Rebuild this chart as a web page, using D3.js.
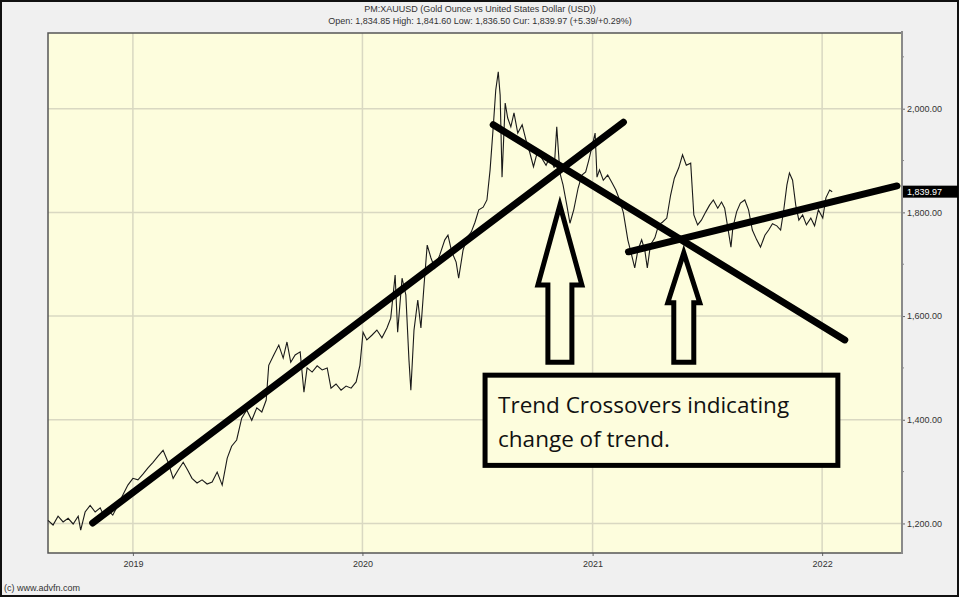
<!DOCTYPE html>
<meta charset="utf-8">
<style>
body { margin: 0; background: #fff; }
svg { display: block; }
.hdr, .tick text, .copy { font-family: "Liberation Sans", Arial, sans-serif; font-size: 9px; fill: #333; }
.note { font-family: "Open Sans", sans-serif; font-size: 22.5px; fill: #111; }
</style>
<body>
<script src="https://d3js.org/d3.v7.min.js"></script>
<script>

// gold price, weekly-ish closes
var dates = ["2018-08-19","2018-08-27","2018-09-04","2018-09-12","2018-09-20","2018-09-28","2018-10-06","2018-10-10","2018-10-17","2018-10-25",
  "2018-11-02","2018-11-10","2018-11-16","2018-11-22","2018-11-30","2018-12-08","2018-12-16","2018-12-24","2019-01-01","2019-01-09",
  "2019-01-17","2019-01-25","2019-02-02","2019-02-10","2019-02-18","2019-02-26","2019-03-06","2019-03-14","2019-03-22","2019-03-29",
  "2019-04-05","2019-04-13","2019-04-21","2019-04-29","2019-05-07","2019-05-15","2019-05-23","2019-05-31","2019-06-07","2019-06-15",
  "2019-06-23","2019-07-01","2019-07-09","2019-07-17","2019-07-25","2019-08-01","2019-08-05","2019-08-13","2019-08-21","2019-08-28",
  "2019-09-03","2019-09-09","2019-09-16","2019-09-24","2019-09-30","2019-10-05","2019-10-13","2019-10-21","2019-10-29","2019-11-06",
  "2019-11-12","2019-11-20","2019-11-28","2019-12-06","2019-12-14","2019-12-22","2019-12-28","2020-01-02","2020-01-08","2020-01-16",
  "2020-01-24","2020-02-01","2020-02-09","2020-02-15","2020-02-22","2020-02-26","2020-03-04","2020-03-10","2020-03-15","2020-03-18",
  "2020-03-23","2020-03-29","2020-04-03","2020-04-08","2020-04-13","2020-04-19","2020-04-25","2020-05-03","2020-05-11","2020-05-16",
  "2020-05-22","2020-05-29","2020-06-02","2020-06-09","2020-06-15","2020-06-22","2020-06-28","2020-07-04","2020-07-11","2020-07-17",
  "2020-07-22","2020-07-27","2020-07-31","2020-08-04","2020-08-07","2020-08-10","2020-08-15","2020-08-19","2020-08-24","2020-08-29",
  "2020-09-04","2020-09-11","2020-09-17","2020-09-23","2020-09-29","2020-10-06","2020-10-12","2020-10-19","2020-10-25","2020-11-01",
  "2020-11-05","2020-11-10","2020-11-15","2020-11-21","2020-11-26","2020-12-02","2020-12-09","2020-12-15","2020-12-21","2020-12-26",
  "2021-01-05","2021-01-08","2021-01-12","2021-01-18","2021-01-25","2021-01-31","2021-02-07","2021-02-13","2021-02-19","2021-02-26",
  "2021-03-04","2021-03-09","2021-03-14","2021-03-20","2021-03-25","2021-03-29","2021-04-03","2021-04-10","2021-04-16","2021-04-22",
  "2021-04-29","2021-05-05","2021-05-11","2021-05-18","2021-05-24","2021-05-30","2021-06-06","2021-06-11","2021-06-17","2021-06-23",
  "2021-06-30","2021-07-06","2021-07-12","2021-07-19","2021-07-25","2021-07-30","2021-08-09","2021-08-12","2021-08-18","2021-08-24",
  "2021-08-31","2021-09-06","2021-09-12","2021-09-19","2021-09-25","2021-10-02","2021-10-08","2021-10-14","2021-10-21","2021-10-27",
  "2021-11-01","2021-11-06","2021-11-10","2021-11-15","2021-11-20","2021-11-25","2021-12-01","2021-12-07","2021-12-14","2021-12-20",
  "2021-12-26","2022-01-02","2022-01-07","2022-01-13","2022-01-17"];

var prices = [1206,1197,1214,1203,1210,1199,1214,1187,1222,1235,
  1222,1230,1214,1226,1216,1235,1255,1274,1287,1284,
  1295,1307,1318,1330,1341,1318,1287,1303,1318,1303,
  1287,1278,1284,1276,1280,1299,1274,1326,1349,1361,
  1403,1419,1399,1423,1415,1438,1505,1525,1544,1519,
  1550,1511,1525,1531,1453,1500,1492,1504,1496,1500,
  1461,1469,1457,1465,1461,1473,1505,1569,1554,1563,
  1573,1558,1577,1596,1679,1569,1673,1641,1515,1457,
  1573,1631,1577,1660,1737,1712,1693,1718,1747,1756,
  1724,1704,1673,1727,1751,1762,1781,1805,1810,1824,
  1882,1965,2036,2071,2026,1868,2011,1982,1965,1992,
  1953,1969,1940,1916,1888,1920,1905,1891,1907,1886,
  1965,1876,1853,1814,1779,1805,1847,1872,1878,1901,
  1953,1868,1882,1862,1872,1859,1843,1824,1799,1747,
  1718,1693,1727,1747,1727,1693,1737,1751,1776,1781,
  1789,1833,1866,1886,1911,1891,1895,1795,1776,1785,
  1801,1814,1824,1808,1820,1808,1733,1770,1801,1818,
  1824,1805,1766,1747,1733,1756,1766,1778,1774,1766,
  1805,1853,1876,1862,1814,1785,1795,1776,1789,1774,
  1805,1789,1828,1843,1839.97];

var yTicks = [1200, 1400, 1600, 1800, 2000];
var yMinor = [1300, 1500, 1700, 1900, 2100];
var xTicks = ["2019-01-01", "2020-01-01", "2021-01-01", "2022-01-01"];
var xLabels = ["2019", "2020", "2021", "2022"];

// hand drawn trend lines [date, value] pairs
var trend1 = [["2018-10-29", 1201], ["2021-02-19", 1974]];
var trend2 = [["2020-07-27", 1969], ["2022-02-06", 1554]];
var trend3 = [["2021-02-27", 1724], ["2022-04-30", 1851]];
// arrows: tip date, tip value, foot value
var arrows = [["2020-11-10", 1814, 1511], ["2021-05-26", 1722, 1511]];
var noteBox = [["2020-07-14", 1486], ["2022-01-26", 1312]];
var noteLines = ["Trend Crossovers indicating", "change of trend."];

var title1 = "PM:XAUUSD (Gold Ounce vs United States Dollar (USD))";
var title2 = "Open: 1,834.85 High: 1,841.60 Low: 1,836.50 Cur: 1,839.97 (+5.39/+0.29%)";
var lastPrice = 1839.97;

var width = 959, height = 597;
var pLeft = 48, pRight = 902, pTop = 33, pBottom = 553;
var parse = d3.timeParse("%Y-%m-%d");

var x = d3.scaleTime()
    .domain([parse("2018-08-19"), parse("2022-05-08")])
    .range([pLeft, pRight]);
var y = d3.scaleLinear()
    .domain([1143, 2146])
    .range([pBottom, pTop]);

var fmt = d3.format(",.2f");

var svg = d3.select("body").append("svg")
    .attr("width", width)
    .attr("height", height);

svg.append("rect")
    .attr("x", 1).attr("y", 1)
    .attr("width", width - 2).attr("height", height - 2)
    .attr("fill", "#f0f0f0")
    .attr("stroke", "#111").attr("stroke-width", 2);

svg.append("rect")
    .attr("x", pLeft).attr("y", pTop)
    .attr("width", pRight - pLeft).attr("height", pBottom - pTop)
    .attr("fill", "#fdfddd");

// grid
svg.append("g").selectAll("line")
    .data(yTicks)
  .enter().append("line")
    .attr("x1", pLeft).attr("x2", pRight)
    .attr("y1", d => y(d)).attr("y2", d => y(d))
    .attr("stroke", "#d9d8c2").attr("stroke-width", 1.5);

svg.append("g").selectAll("line")
    .data(xTicks)
  .enter().append("line")
    .attr("x1", d => x(parse(d))).attr("x2", d => x(parse(d)))
    .attr("y1", pTop).attr("y2", pBottom)
    .attr("stroke", "#d9d8c2").attr("stroke-width", 1.5);

// axes
var yAxis = d3.axisRight(y)
    .tickValues(yTicks)
    .tickSize(3)
    .tickPadding(2)
    .tickFormat(fmt);
var ga = svg.append("g")
    .attr("transform", "translate(" + pRight + ",0)")
    .call(yAxis);
ga.select(".domain").remove();
ga.selectAll(".tick line").attr("stroke", "#666");

svg.append("g").selectAll("line")
    .data(yMinor)
  .enter().append("line")
    .attr("x1", pRight).attr("x2", pRight + 2)
    .attr("y1", d => y(d)).attr("y2", d => y(d))
    .attr("stroke", "#888");

var xAxis = d3.axisBottom(x)
    .tickValues(xTicks.map(parse))
    .tickSize(3)
    .tickPadding(5)
    .tickFormat((d, i) => xLabels[i]);
var gx = svg.append("g")
    .attr("transform", "translate(0," + pBottom + ")")
    .call(xAxis);
gx.select(".domain").remove();
gx.selectAll(".tick line").attr("stroke", "#666");
svg.selectAll(".tick").attr("font-size", null).attr("font-family", null);

// frame
svg.append("path")
    .attr("d", "M" + pRight + "," + pTop + "H" + pLeft + "V" + pBottom + "H" + pRight)
    .attr("fill", "none").attr("stroke", "#555").attr("stroke-width", 1.5);
svg.append("line")
    .attr("x1", pRight).attr("x2", pRight).attr("y1", pTop - 2).attr("y2", pBottom + 1)
    .attr("stroke", "#8a8a8a").attr("stroke-width", 2);

// price line
var series = dates.map((d, i) => ({date: parse(d), value: prices[i]}));
var line = d3.line()
    .x(d => x(d.date))
    .y(d => y(d.value));

svg.append("path")
    .datum(series)
    .attr("d", line)
    .attr("fill", "none")
    .attr("stroke", "#1a1a1a")
    .attr("stroke-width", 1.1);

// current price flag
svg.append("rect")
    .attr("x", pRight + 1).attr("y", y(lastPrice) - 6)
    .attr("width", width - pRight - 2).attr("height", 12)
    .attr("fill", "#000");
svg.append("text")
    .attr("class", "hdr")
    .attr("x", pRight + 5).attr("y", y(lastPrice) + 3)
    .style("fill", "#fff")
    .text(fmt(lastPrice));

// trend lines
[trend1, trend2, trend3].forEach(function(t) {
  svg.append("line")
      .attr("x1", x(parse(t[0][0]))).attr("y1", y(t[0][1]))
      .attr("x2", x(parse(t[1][0]))).attr("y2", y(t[1][1]))
      .attr("stroke", "#000")
      .attr("stroke-width", 7)
      .attr("stroke-linecap", "round");
});

// hollow arrows
arrows.forEach(function(a, i) {
  var cx = x(parse(a[0])), ty = y(a[1]), by = y(a[2]);
  var hw = i == 0 ? 22 : 16, sw = i == 0 ? 12 : 10;
  var hy = ty + (i == 0 ? 80 : 50);
  var pts = [[cx, ty], [cx + hw, hy], [cx + sw, hy], [cx + sw, by],
             [cx - sw, by], [cx - sw, hy], [cx - hw, hy]];
  svg.append("polygon")
      .attr("points", pts.map(p => p.join(",")).join(" "))
      .attr("fill", "#fdfddd")
      .attr("stroke", "#000")
      .attr("stroke-width", 5)
      .attr("stroke-linejoin", "miter");
});

// note box
var bx0 = x(parse(noteBox[0][0])), by0 = y(noteBox[0][1]);
var bx1 = x(parse(noteBox[1][0])), by1 = y(noteBox[1][1]);
svg.append("rect")
    .attr("x", bx0).attr("y", by0)
    .attr("width", bx1 - bx0).attr("height", by1 - by0)
    .attr("fill", "#fdfddd")
    .attr("stroke", "#000")
    .attr("stroke-width", 5);
svg.selectAll(".note")
    .data(noteLines)
  .enter().append("text")
    .attr("class", "note")
    .attr("x", bx0 + 13)
    .attr("y", (d, i) => by0 + 38 + i * 34)
    .text(d => d);

// header
svg.append("text").attr("class", "hdr")
    .attr("x", 480).attr("y", 12).attr("text-anchor", "middle")
    .text(title1);
svg.append("text").attr("class", "hdr")
    .attr("x", 480).attr("y", 24).attr("text-anchor", "middle")
    .text(title2);

svg.append("text").attr("class", "copy")
    .attr("x", 4).attr("y", 591)
    .text("(c) www.advfn.com");

</script>
